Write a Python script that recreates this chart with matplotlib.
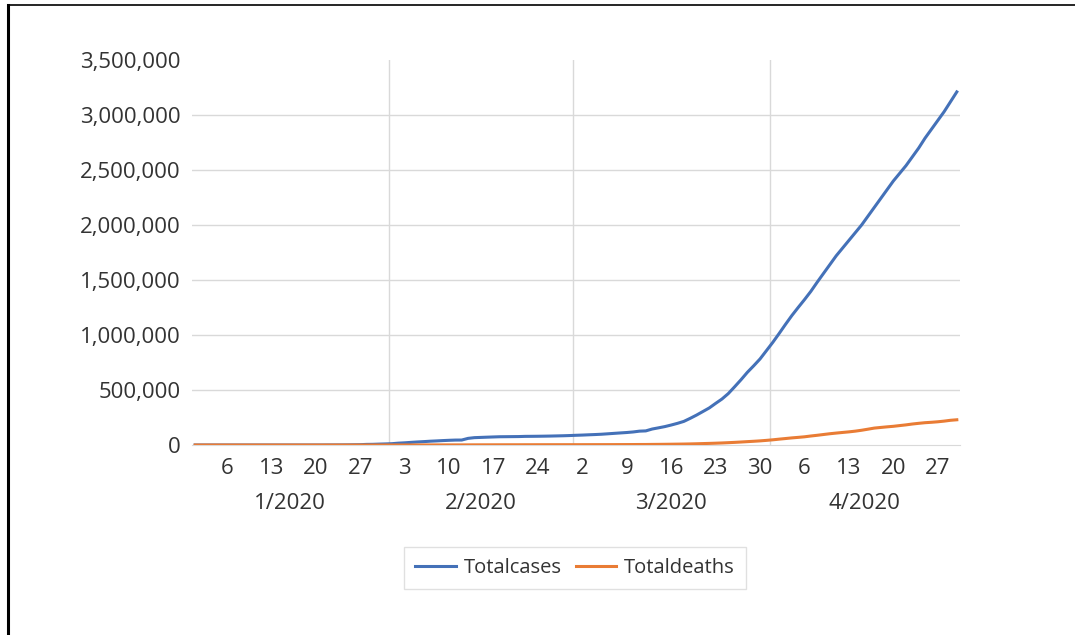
import matplotlib.pyplot as plt
from matplotlib.lines import Line2D

plt.rcParams["font.family"] = ["Open Sans", "DejaVu Sans"]

# daily totals, 1 Jan 2020 .. 30 Apr 2020
total_cases = [
    27, 27, 44, 44, 59, 59, 59, 59, 59, 59, 59, 59, 60, 61, 61, 62, 62, 64, 64, 140, 226,
    555, 654, 941, 1434, 2118, 2927, 5578, 6166, 8234, 9927,
    12038, 16787, 19881, 23892, 27635, 30794, 34391, 37120, 40150, 42762,
    44802, 45221, 60368, 66885, 69030, 71224, 73258, 75136, 75639, 76197,
    76819, 78572, 78958, 79561, 80406, 81388, 82746, 84112, 86011,
    88369, 90306, 92840, 95120, 97886, 101801, 105847, 109821, 113590, 118620,
    125875, 128352, 145205, 156101, 167454, 181574, 197102, 214821, 242570, 272208,
    304507, 336953, 378235, 418045, 467653, 529591, 593291, 660706, 720117, 782365,
    857487,
    932605, 1013157, 1095917, 1176060, 1249754, 1321481, 1396476, 1479804, 1560000, 1640000,
    1720000, 1790000, 1860000, 1930000, 2000000, 2080000, 2160000, 2240000, 2320000, 2400000,
    2470000, 2540000, 2620000, 2700000, 2790000, 2870000, 2950000, 3030000, 3120000, 3210000,
]
total_deaths = [
    0, 0, 0, 0, 0, 0, 0, 0, 0, 0, 0, 0, 0, 0, 0, 0, 0, 0, 0, 0, 0,
    17, 18, 26, 42, 56, 82, 131, 133, 171, 213,
    259, 362, 426, 492, 564, 634, 719, 806, 906, 1013,
    1113, 1118, 1371, 1523, 1666, 1770, 1868, 2007, 2122, 2247,
    2251, 2458, 2469, 2629, 2708, 2770, 2814, 2872, 2941,
    2996, 3085, 3160, 3254, 3348, 3460, 3558, 3802, 3988, 4262,
    4615, 4720, 5404, 5819, 6440, 7126, 7905, 8733, 9867, 11299,
    12973, 14623, 16497, 18615, 21181, 23970, 27198, 30652, 33925, 37582,
    42107,
    47180, 53190, 58787, 64606, 69374, 74565, 81865, 88338, 95455, 102526,
    108502, 114090, 119481, 125983, 134176, 143800, 153822, 159510, 165044, 169985,
    176583, 183066, 190858, 197159, 202846, 206544, 211167, 217153, 224638, 229388,
]

month_labels = ["1/2020", "2/2020", "3/2020", "4/2020"]
month_days = [31, 29, 31, 30]
week_labels = ["6", "13", "20", "27", "3", "10", "17", "24",
               "2", "9", "16", "23", "30", "6", "13", "20", "27"]
week_start = 5  # first labelled day (6 Jan) as an index
y_ticks = [0, 500000, 1000000, 1500000, 2000000, 2500000, 3000000, 3500000]

days = list(range(len(total_cases)))

fig = plt.figure(figsize=(10.75, 6.35), dpi=100)
ax = fig.add_axes([0.1786, 0.2992, 0.7144, 0.6063])

grid_c = "#D9D9D9"
text_c = "#333333"
ax.plot(days, total_cases, color="#4471B8", lw=2.2, label="Totalcases", zorder=3)
ax.plot(days, total_deaths, color="#E97C35", lw=2.2, label="Totaldeaths", zorder=3)

ax.set_xlim(-0.5, len(days) - 0.5)
ax.set_ylim(0, 3500000)

# month separators
edge = -0.5
centers = []
for n in month_days:
    centers.append(edge + n / 2)
    edge += n
    if edge < len(days) - 1:
        ax.axvline(edge, color=grid_c, lw=1, zorder=1)

ax.set_yticks(y_ticks)
ax.set_yticklabels([f"{v:,}" for v in y_ticks])
for v in y_ticks[1:-1]:
    ax.axhline(v, color=grid_c, lw=1, zorder=1)

ax.set_xticks([week_start + 7 * i for i in range(len(week_labels))])
ax.set_xticklabels(week_labels)
ax.tick_params(axis="both", length=0, labelsize=16, colors=text_c)
ax.tick_params(axis="x", pad=9)
ax.tick_params(axis="y", pad=8)

trans = ax.get_xaxis_transform()
for c, lab in zip(centers, month_labels):
    ax.text(c, -0.153, lab, transform=trans, ha="center", va="center",
            fontsize=16, color=text_c)

for s in ["top", "right", "left"]:
    ax.spines[s].set_visible(False)
ax.spines["bottom"].set_color(grid_c)

leg = fig.legend(loc="center", bbox_to_anchor=(0.535, 0.105), ncol=2,
                 frameon=True, fancybox=False, edgecolor=grid_c, fontsize=14.5,
                 handlelength=2.0, handletextpad=0.4, columnspacing=0.7,
                 borderpad=0.55)
leg.get_frame().set_linewidth(1)
for t in leg.get_texts():
    t.set_color(text_c)

# outer frame (top and left edges)
fig.add_artist(Line2D([0.0075, 1.0], [0.9925, 0.9925], color="black", lw=1.2,
                      transform=fig.transFigure))
fig.add_artist(Line2D([0.0075, 0.0075], [0.0, 0.9925], color="black", lw=2.2,
                      transform=fig.transFigure))

fig.savefig("out.png", dpi=100, facecolor="white")
